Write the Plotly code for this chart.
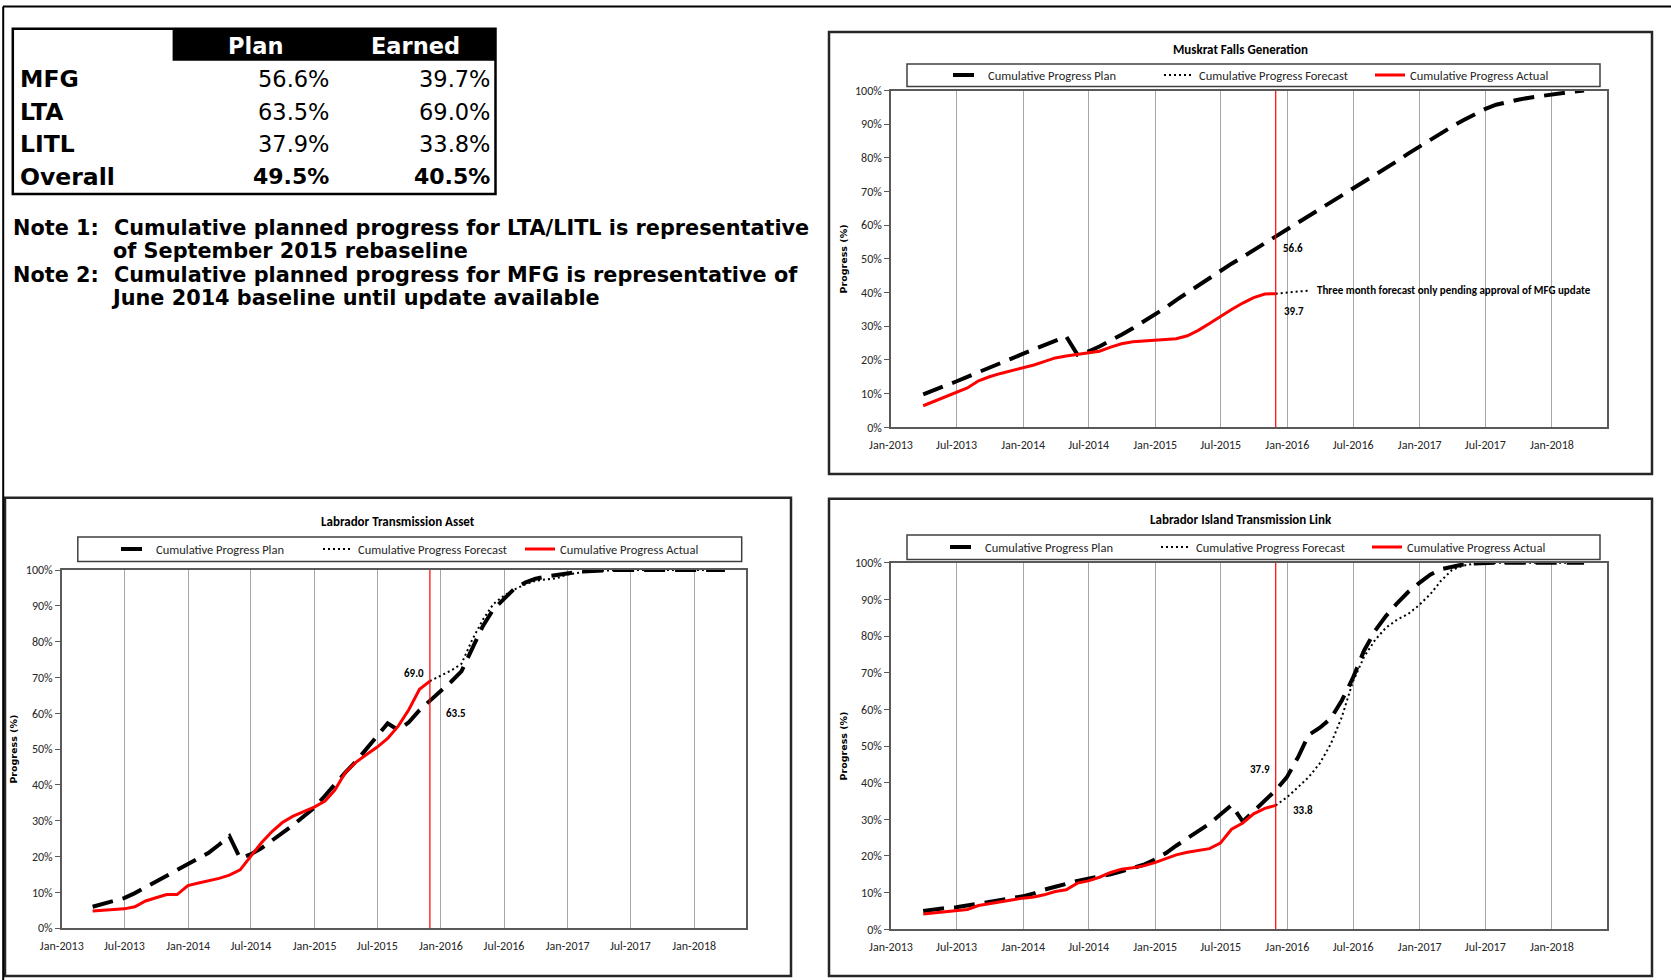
import pandas as pd
import plotly.graph_objects as go

# ---------------- data ----------------
table_header = ["Plan", "Earned"]
table_rows = ["MFG", "LTA", "LITL", "Overall"]
table_plan = ["56.6%", "63.5%", "37.9%", "49.5%"]
table_earned = ["39.7%", "69.0%", "33.8%", "40.5%"]

note_labels = ["Note 1:", "Note 2:"]
note_text = [
    ["Cumulative planned progress for LTA/LITL is representative", "of September 2015 rebaseline"],
    ["Cumulative planned progress for MFG is representative of", "June 2014 baseline until update available"],
]

chart_titles = ["Muskrat Falls Generation", "Labrador Transmission Asset", "Labrador Island Transmission Link"]
series_names = ["Cumulative Progress Plan", "Cumulative Progress Forecast", "Cumulative Progress Actual"]

status_date = "2015-11-30"
plan_months = pd.date_range("2013-03-31", "2018-03-31", freq="ME").strftime("%Y-%m-%d").tolist()
actual_months = pd.date_range("2013-03-31", "2015-11-30", freq="ME").strftime("%Y-%m-%d").tolist()
forecast_months = pd.date_range("2015-11-30", "2018-03-31", freq="ME").strftime("%Y-%m-%d").tolist()
mfg_forecast_months = pd.date_range("2015-11-30", "2016-02-29", freq="ME").strftime("%Y-%m-%d").tolist()

mfg_plan = [9.8, 11.0, 12.3, 13.6, 15.0, 16.3, 17.7, 19.1, 20.4, 21.8, 23.1, 24.4, 25.7, 27.0,
            21.6, 22.5, 24.0, 25.7, 27.5, 29.4, 31.4, 33.5, 35.6, 37.8, 40.0, 42.2, 44.4, 46.6,
            48.6, 50.6, 52.6, 54.6, 56.6, 58.6, 60.6, 62.6, 64.6, 66.6, 68.6, 70.6, 72.7, 74.8,
            76.9, 79.1, 81.3, 83.4, 85.4, 87.4, 89.3, 91.1, 92.9, 94.5, 95.8, 96.7, 97.3, 97.9,
            98.4, 98.8, 99.3, 99.7, 100.0]
mfg_actual = [6.4, 7.7, 8.9, 10.3, 11.7, 13.8, 15.0, 16.0, 16.8, 17.6, 18.5, 19.5, 20.6, 21.2,
              21.6, 22.0, 22.6, 23.8, 24.8, 25.4, 25.6, 25.7, 25.9, 26.3, 27.2, 28.8, 30.8, 32.9,
              35.0, 36.9, 38.5, 39.6, 39.7]
mfg_forecast = [39.7, 40.0, 40.3, 40.6]

lta_plan = [6.0, 6.8, 7.6, 8.4, 9.8, 11.4, 13.0, 14.6, 16.2, 17.9, 19.6, 21.0, 23.3, 25.7,
            19.5, 20.6, 22.3, 24.4, 26.6, 28.8, 31.2, 33.6, 37.0, 40.2, 43.5, 46.5, 50.0, 53.6,
            57.2, 55.3, 57.5, 60.9, 63.5, 66.0, 68.9, 71.7, 78.0, 84.2, 89.0, 92.0, 94.8, 96.5,
            97.6, 98.2, 98.6, 99.2, 99.5, 99.7, 99.9, 100.0, 100.0, 100.0, 100.0, 100.0, 100.0,
            100.0, 100.0, 100.0, 100.0, 100.0, 100.0]
lta_actual = [4.8, 5.0, 5.2, 5.4, 6.0, 7.6, 8.5, 9.4, 9.4, 11.9, 12.6, 13.2, 13.9, 14.8,
              16.3, 20.0, 23.8, 27.0, 29.5, 31.3, 32.6, 33.8, 35.5, 38.5, 43.5, 46.3, 48.5, 50.5,
              53.0, 56.5, 61.0, 66.7, 69.0]
lta_forecast = [69.0, 70.6, 72.0, 73.8, 80.5, 86.0, 90.5, 92.8, 94.6, 96.0, 97.0, 97.4, 97.7,
                98.8, 99.3, 99.6, 99.8, 100.0, 100.0, 100.0, 100.0, 100.0, 100.0, 100.0, 100.0,
                100.0, 100.0, 100.0, 100.0]

litl_plan = [5.0, 5.5, 5.8, 6.0, 6.5, 7.0, 7.5, 8.0, 8.5, 9.0, 9.8, 10.8, 11.6, 12.5,
             13.2, 13.8, 14.3, 15.0, 15.8, 16.6, 17.6, 19.0, 20.8, 22.8, 24.8, 26.8, 28.8, 31.3,
             33.9, 29.4, 32.2, 35.0, 37.9, 41.5, 47.0, 53.0, 55.0, 57.5, 62.5, 68.5, 76.0, 81.5,
             85.5, 89.0, 92.0, 94.5, 96.8, 98.2, 99.0, 99.5, 99.8, 100.0, 100.0, 100.0, 100.0,
             100.0, 100.0, 100.0, 100.0, 100.0, 100.0]
litl_actual = [4.2, 4.5, 4.7, 5.0, 5.4, 6.5, 7.0, 7.7, 8.0, 8.5, 8.8, 9.4, 10.3, 10.8,
               12.6, 13.2, 14.2, 15.5, 16.4, 16.8, 17.3, 18.2, 19.2, 20.3, 21.0, 21.5, 22.0, 23.5,
               27.3, 29.0, 31.5, 33.0, 33.8]
litl_forecast = [33.8, 36.0, 38.8, 41.5, 45.3, 50.5, 58.0, 67.5, 74.3, 79.0, 82.3, 84.5, 86.0,
                 88.5, 91.5, 95.0, 98.0, 99.2, 99.7, 100.0, 100.0, 100.0, 100.0, 100.0, 100.0,
                 100.0, 100.0, 100.0, 100.0]

# ---------------- layout helpers ----------------
W, H = 1671, 980
def px(x):
    return x / W
def py(y):
    return 1 - y / H

CHART_FONT = "Carlito, Lato, Liberation Sans, sans-serif"
TABLE_FONT = "DejaVu Sans, Verdana, sans-serif"

charts = [
    dict(plan=mfg_plan, actual=mfg_actual, fc=mfg_forecast, fc_x=mfg_forecast_months,
         plot=(891, 90.6, 1606.5, 427.3), box=(829, 32, 1652, 474), title_y=50,
         legbox=(907, 64, 1600, 86.5), leg_x=948, entry=166,
         labels=[(56.6, "left", 5, -12), (39.7, "left", 6, -18)]),
    dict(plan=lta_plan, actual=lta_actual, fc=lta_forecast, fc_x=forecast_months,
         plot=(61.8, 570.1, 746.4, 928.2), box=(5, 497.7, 791, 976), title_y=521,
         legbox=(77.8, 537.1, 741.7, 561.6), leg_x=116, entry=157,
         labels=[(69.0, "right", -4, 8), (63.5, "left", 14, -13)]),
    dict(plan=litl_plan, actual=litl_actual, fc=litl_forecast, fc_x=forecast_months,
         plot=(891, 562.7, 1606.5, 929.3), box=(829, 498.7, 1652, 976), title_y=519,
         legbox=(907, 535, 1600, 559.5), leg_x=945, entry=166,
         labels=[(37.9, "right", -4, 21), (33.8, "left", 15, -5)]),
]

fig = go.Figure()
shapes = []
annotations = []
legend_names = ["legend", "legend2", "legend3"]

for i, c in enumerate(charts):
    sfx = "" if i == 0 else str(i + 1)
    xa, ya = "x" + sfx, "y" + sfx
    lg = legend_names[i]
    fig.add_trace(go.Scatter(x=plan_months, y=c["plan"], mode="lines", name=series_names[0],
                             line=dict(color="black", width=4, dash="21px,10px"),
                             xaxis=xa, yaxis=ya, legend=lg))
    fig.add_trace(go.Scatter(x=c["fc_x"], y=c["fc"], mode="lines", name=series_names[1],
                             line=dict(color="black", width=2, dash="2px,3px"),
                             xaxis=xa, yaxis=ya, legend=lg))
    fig.add_trace(go.Scatter(x=actual_months, y=c["actual"], mode="lines", name=series_names[2],
                             line=dict(color="#ff0000", width=3),
                             xaxis=xa, yaxis=ya, legend=lg))
    x0, y0, x1, y1 = c["plot"]
    axis_common = dict(showline=True, mirror=True, linecolor="#595959", linewidth=1.5,
                       automargin=False)
    fig.update_layout(**{
        "xaxis" + sfx: dict(domain=[px(x0), px(x1)], anchor=ya, type="date",
                            range=["2013-01-01", "2018-06-01"], tick0="2013-01-01", dtick="M6",
                            tickformat="%b-%Y", ticks="", ticklabelstandoff=6,
                            showgrid=True, gridcolor="#a6a6a6", gridwidth=1, zeroline=False,
                            tickfont=dict(family=CHART_FONT, size=12, color="#262626"),
                            **axis_common),
        "yaxis" + sfx: dict(domain=[py(y1), py(y0)], anchor=xa, range=[0, 100], dtick=10,
                            ticksuffix="%", ticks="outside", ticklen=5, tickcolor="#595959",
                            showgrid=False, zeroline=False,
                            tickfont=dict(family=CHART_FONT, size=12, color="#262626"),
                            title=dict(text="Progress (%)", standoff=6,
                                       font=dict(family=TABLE_FONT, size=9.5, color="black",
                                                 weight="bold")),
                            **axis_common),
    })
    # status date line
    shapes.append(dict(type="line", xref=xa, yref=ya, x0=status_date, x1=status_date, y0=0, y1=100,
                       line=dict(color="#ff0000", width=1.2), layer="above"))
    # chart frame
    bx0, by0, bx1, by1 = c["box"]
    shapes.append(dict(type="rect", xref="paper", yref="paper", x0=px(bx0), x1=px(bx1),
                       y0=py(by1), y1=py(by0), line=dict(color="#262626", width=2.5)))
    # legend frame
    lx0, ly0, lx1, ly1 = c["legbox"]
    shapes.append(dict(type="rect", xref="paper", yref="paper", x0=px(lx0), x1=px(lx1),
                       y0=py(ly1), y1=py(ly0), line=dict(color="#404040", width=1.5)))
    fig.update_layout(**{lg: dict(orientation="h", x=px(c["leg_x"]), y=py((ly0 + ly1) / 2),
                                  xanchor="left", yanchor="middle", bgcolor="rgba(0,0,0,0)",
                                  borderwidth=0, entrywidth=c["entry"], itemwidth=30,
                                  font=dict(family=CHART_FONT, size=12.5, color="#262626"))})
    # title
    annotations.append(dict(text=chart_titles[i], xref="paper", yref="paper",
                            x=px((bx0 + bx1) / 2), y=py(c["title_y"]),
                            showarrow=False, xanchor="center", yanchor="middle",
                            font=dict(family=CHART_FONT, size=13, color="black", weight="bold")))
    # value labels at status date
    for val, anc, xs, ys in c["labels"]:
        annotations.append(dict(text=f"{val:.1f}", xref=xa, yref=ya, x=status_date, y=val,
                                showarrow=False, xanchor=anc, yanchor="middle", xshift=xs, yshift=ys,
                                font=dict(family=CHART_FONT, size=11, color="black", weight="bold")))

# MFG forecast note
annotations.append(dict(text="Three month forecast only pending approval of MFG update", xref="x", yref="y",
                        x=mfg_forecast_months[-1], y=mfg_forecast[-1], xanchor="left", yanchor="middle",
                        xshift=6, showarrow=False,
                        font=dict(family=CHART_FONT, size=11, color="black", weight="bold")))

# ---------------- summary table ----------------
TB_X0, TB_X1, TB_Y0, TB_Y1 = 12.8, 495.5, 28.8, 194
HEAD_X0, HEAD_Y1 = 172.6, 60.7
col_centers = [255, 415.6]
col_right = [331, 492]
row_y = [78.9, 111.9, 143.9, 176.9]
shapes.append(dict(type="rect", xref="paper", yref="paper", x0=px(HEAD_X0), x1=px(TB_X1),
                   y0=py(HEAD_Y1), y1=py(TB_Y0), fillcolor="black", line=dict(width=0)))
shapes.append(dict(type="rect", xref="paper", yref="paper", x0=px(TB_X0), x1=px(TB_X1),
                   y0=py(TB_Y1), y1=py(TB_Y0), line=dict(color="black", width=2.5)))
for j, h in enumerate(table_header):
    annotations.append(dict(text=h, xref="paper", yref="paper", x=px(col_centers[j]), y=py(46),
                            xanchor="center", yanchor="middle", showarrow=False,
                            font=dict(family=TABLE_FONT, size=22.5, color="white", weight="bold")))
for r, (lab, pv, ev) in enumerate(zip(table_rows, table_plan, table_earned)):
    bold = "bold" if lab == "Overall" else "normal"
    annotations.append(dict(text=lab, xref="paper", yref="paper", x=px(18), y=py(row_y[r]),
                            xanchor="left", yanchor="middle", showarrow=False,
                            font=dict(family=TABLE_FONT, size=23.5, color="black", weight="bold")))
    for j, v in enumerate([pv, ev]):
        annotations.append(dict(text=v, xref="paper", yref="paper", x=px(col_right[j]), y=py(row_y[r]),
                                xanchor="right", yanchor="middle", showarrow=False,
                                font=dict(family=TABLE_FONT, size=22.5 if bold == "normal" else 22,
                                          color="black", weight=bold)))

# notes
note_y = [(228, 250.5), (275, 298.4)]
note_x2 = [110.8, 108.7]
NOTE_SIZE = 20.8
for k in range(2):
    annotations.append(dict(text=note_labels[k], xref="paper", yref="paper", x=px(10.7), y=py(note_y[k][0]),
                            xanchor="left", yanchor="middle", showarrow=False,
                            font=dict(family=TABLE_FONT, size=NOTE_SIZE, color="black", weight="bold")))
    annotations.append(dict(text=note_text[k][0], xref="paper", yref="paper", x=px(112), y=py(note_y[k][0]),
                            xanchor="left", yanchor="middle", showarrow=False,
                            font=dict(family=TABLE_FONT, size=NOTE_SIZE, color="black", weight="bold")))
    annotations.append(dict(text=note_text[k][1], xref="paper", yref="paper", x=px(note_x2[k]),
                            y=py(note_y[k][1]), xanchor="left", yanchor="middle", showarrow=False,
                            font=dict(family=TABLE_FONT, size=NOTE_SIZE, color="black", weight="bold")))

# outer frame
shapes.append(dict(type="line", xref="paper", yref="paper", x0=px(3), x1=1, y0=py(6.5), y1=py(6.5),
                   line=dict(color="black", width=2)))
shapes.append(dict(type="line", xref="paper", yref="paper", x0=px(3.2), x1=px(3.2), y0=0, y1=py(6.5),
                   line=dict(color="black", width=2)))

fig.update_layout(template="none", width=W, height=H, margin=dict(l=0, r=0, t=0, b=0, autoexpand=False),
                  paper_bgcolor="white", plot_bgcolor="white", showlegend=True,
                  shapes=shapes, annotations=annotations)
fig.write_html("out.html", config={"displayModeBar": False},
               post_script="document.body.style.margin='0';document.body.style.overflow='hidden';")
